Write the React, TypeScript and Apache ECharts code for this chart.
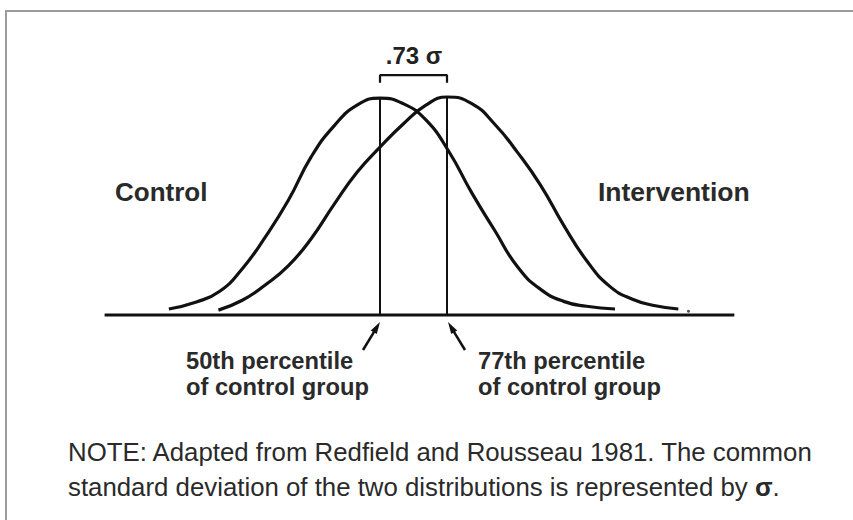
import React, { useEffect, useRef } from "react";
import * as echarts from "echarts";

// x in units of the common standard deviation (control mean = 0), y = density
const controlX = [-2.3, -2.0, -1.75, -1.5, -1.25, -1.0, -0.75, -0.5, -0.25, 0, 0.25, 0.5, 0.75, 1.0, 1.25, 1.5, 1.75, 2.0, 2.25, 2.56];
const controlY = [0.011, 0.024, 0.043, 0.085, 0.143, 0.21, 0.29, 0.347, 0.385, 0.398, 0.388, 0.358, 0.3, 0.224, 0.155, 0.088, 0.047, 0.025, 0.016, 0.011];
const interventionX = [-1.76, -1.5, -1.25, -1.0, -0.75, -0.5, -0.25, 0, 0.25, 0.5, 0.73, 1.0, 1.25, 1.5, 1.75, 2.0, 2.25, 2.5, 2.75, 3.0, 3.25];
const interventionY = [0.009, 0.027, 0.055, 0.09, 0.14, 0.203, 0.262, 0.308, 0.35, 0.385, 0.4, 0.388, 0.35, 0.298, 0.238, 0.165, 0.1, 0.053, 0.029, 0.017, 0.011];
const means = [0, 0.73];
const peak = 0.4;
const baselineX = [-3, 3.86];
const strayDot = [3.36, 0.007];
const effectLabel = ".73 σ";
const groupLabels = ["Control", "Intervention"];
const percentileLabels = ["50th percentile\nof control group", "77th percentile\nof control group"];

const zip = (xs: number[], ys: number[]) => xs.map((x, i) => [x, ys[i]]);

function arrow(tail: number[], tip: number[]) {
  const dx = tip[0] - tail[0];
  const dy = tip[1] - tail[1];
  const len = Math.hypot(dx, dy);
  const ux = dx / len;
  const uy = dy / len;
  const hl = 12;
  const hw = 3.5;
  const bx = tip[0] - ux * hl;
  const by = tip[1] - uy * hl;
  return [
    {
      type: "line",
      shape: { x1: tail[0], y1: tail[1], x2: bx + ux * 2, y2: by + uy * 2 },
      style: { stroke: "#111", lineWidth: 2.5 },
    },
    {
      type: "polygon",
      shape: {
        points: [
          [tip[0], tip[1]],
          [bx - uy * hw, by + ux * hw],
          [bx + uy * hw, by - ux * hw],
        ],
      },
      style: { fill: "#111" },
    },
  ];
}

export default function App() {
  const ref = useRef<HTMLDivElement>(null);
  useEffect(() => {
    if (!ref.current) return;
    const chart = echarts.init(ref.current, null, { renderer: "svg" });
    const font = "'Liberation Sans', Arial, Helvetica, sans-serif";
    const lineStyle = { color: "#111", width: 3.2 };
    chart.setOption({
      animation: false,
      backgroundColor: "#fff",
      grid: { left: 104.6, right: 105.8, top: 42.5, bottom: 205 },
      xAxis: { type: "value", min: -3, max: 4, show: false },
      yAxis: { type: "value", min: 0, max: 0.5, show: false },
      series: [
        {
          type: "line",
          data: zip(controlX, controlY),
          smooth: 0.5,
          showSymbol: false,
          clip: false,
          lineStyle,
        },
        {
          type: "line",
          data: zip(interventionX, interventionY),
          smooth: 0.5,
          showSymbol: false,
          clip: false,
          lineStyle,
        },
        {
          type: "line",
          data: baselineX.map((x) => [x, 0]),
          showSymbol: false,
          clip: false,
          lineStyle: { color: "#111", width: 3 },
        },
        ...means.map((m) => ({
          type: "line",
          data: [
            [m, 0],
            [m, peak],
          ],
          showSymbol: false,
          clip: false,
          lineStyle: { color: "#111", width: 2 },
        })),
        {
          type: "line",
          data: [
            [means[0], 0.426],
            [means[0], 0.44],
            [means[1], 0.44],
            [means[1], 0.426],
          ],
          showSymbol: false,
          clip: false,
          lineStyle: { color: "#111", width: 2.2 },
        },
        {
          type: "scatter",
          data: [strayDot],
          symbolSize: 3,
          clip: false,
          itemStyle: { color: "#222" },
        },
      ],
      graphic: [
        {
          type: "rect",
          shape: { x: 6, y: 11, width: 900, height: 600 },
          style: { fill: "none", stroke: "#9c9c9c", lineWidth: 2 },
        },
        {
          type: "text",
          x: 414,
          y: 55,
          style: {
            text: effectLabel,
            font: `bold 24px ${font}`,
            fill: "#222",
            textAlign: "center",
            textVerticalAlign: "middle",
          },
        },
        {
          type: "text",
          x: 115,
          y: 192,
          style: { text: groupLabels[0], font: `bold 26px ${font}`, fill: "#2a2a2a", textVerticalAlign: "middle" },
        },
        {
          type: "text",
          x: 598,
          y: 192,
          style: { text: groupLabels[1], font: `bold 26.5px ${font}`, fill: "#2a2a2a", textVerticalAlign: "middle" },
        },
        {
          type: "text",
          x: 186,
          y: 348,
          style: { text: percentileLabels[0], font: `bold 23.7px ${font}`, fill: "#2a2a2a", lineHeight: 26 },
        },
        {
          type: "text",
          x: 478,
          y: 348,
          style: { text: percentileLabels[1], font: `bold 23.7px ${font}`, fill: "#2a2a2a", lineHeight: 26 },
        },
        ...arrow([363, 350], [380, 322]),
        ...arrow([465, 350], [448, 322]),
        {
          type: "text",
          x: 68,
          y: 434,
          style: {
            text: "NOTE: Adapted from Redfield and Rousseau 1981. The common\nstandard deviation of the two distributions is represented by {b|σ}.",
            font: `25.8px ${font}`,
            fill: "#2a2a2a",
            lineHeight: 35,
            rich: {
              b: { font: `bold 25.8px ${font}`, fill: "#2a2a2a" },
            },
          },
        },
      ],
    });
    return () => chart.dispose();
  }, []);
  return (
    <div
      ref={ref}
      style={{ position: "absolute", left: 0, top: 0, width: 853, height: 520 }}
    />
  );
}
